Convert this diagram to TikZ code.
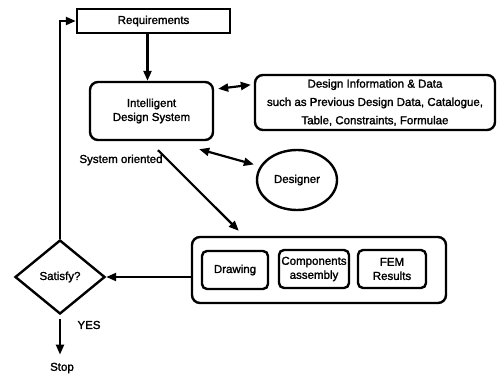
\documentclass[tikz,border=0pt]{standalone}
\usepackage{fontspec}
\setmainfont{Liberation Sans}
\newfontfamily\labelfont{Liberation Sans}[FakeBold=1.6]
\usetikzlibrary{arrows.meta,shapes.geometric}

\tikzset{
  base/.style={font=\labelfont\fontsize{11.5}{14}\selectfont, align=center, inner sep=0pt},
  plainbox/.style={base, draw, line width=2.4pt},
  roundbox/.style={base, draw, line width=2.4pt, rounded corners=8pt},
  smallbox/.style={base, draw, line width=2.4pt, rounded corners=5pt},
  txt/.style={base},
  conn/.style={line width=2.2pt, -{Triangle[length=10pt,width=8pt]}},
  twoway/.style={line width=2.2pt, {Triangle[length=10pt,width=8pt]}-{Triangle[length=10pt,width=8pt]}},
}

\begin{document}
\begin{tikzpicture}[x=1pt, y=-1pt]
\useasboundingbox (0,0) rectangle (502,374);

% main blocks
\node[plainbox, minimum width=153pt, minimum height=24pt] (req) at (153.5,21) {Requirements};
\node[roundbox, minimum width=123pt, minimum height=58pt] (ids) at (151.5,111) {Intelligent\\Design System};
\node[roundbox, minimum width=240pt, minimum height=55pt,
      font=\labelfont\fontsize{11.5}{18.3}\selectfont] (info) at (375,102.5)
  {Design Information \& Data\\such as Previous Design Data, Catalogue,\\Table, Constraints, Formulae};
\node[base, draw, line width=2.4pt, ellipse, minimum width=80pt, minimum height=60pt] (des) at (297,180) {Designer};

% output group
\node[roundbox, minimum width=254pt, minimum height=66pt] (out) at (319,270) {};
\node[smallbox, minimum width=66pt, minimum height=38pt] (drw) at (235,270) {Drawing};
\node[smallbox, minimum width=70pt, minimum height=38pt] (comp) at (314,269) {Components\\assembly};
\node[smallbox, minimum width=68pt, minimum height=38pt] (fem) at (392,269) {FEM\\Results};

% decision
\node[base, draw, line width=2.4pt, diamond, minimum width=90pt, minimum height=74pt] (sat) at (60,277) {Satisfy?};

% free labels
\node[txt] (sys) at (121,160) {System oriented};
\node[txt] (yes) at (89,325) {YES};
\node[txt] (stop) at (62,368) {Stop};

% connectors
\draw[conn] ([xshift=-6pt]req.south) -- ([xshift=-4pt]ids.north);
\draw[twoway] ([xshift=4pt,yshift=-8pt]ids.north east) -- ([xshift=-3pt,yshift=-11pt]info.north west);
\draw[twoway] ([xshift=-15pt,yshift=-8pt]ids.south east) -- ([xshift=-6pt,yshift=2pt]des.160);
\draw[conn] ([xshift=6.5pt,yshift=-9pt]ids.south) -- ([xshift=48pt,yshift=5pt]out.north west);
\draw[conn] ([yshift=-7pt]out.west) -- (sat.east);
\draw[conn] (sat.north) |- (req.west);
\draw[conn] ([yshift=-4pt]sat.south) -- ([yshift=8pt]sat.south |- stop.north);
\end{tikzpicture}
\end{document}
